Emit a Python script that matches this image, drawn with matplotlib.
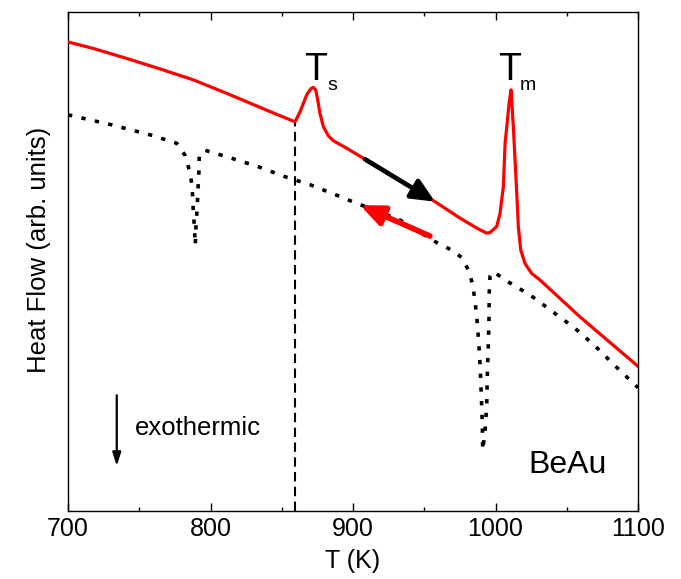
import matplotlib.pyplot as plt
import numpy as np

plt.rcParams['font.family'] = ['Liberation Sans', 'DejaVu Sans']

# heating run (red, solid)
heat_T = [700, 717.8, 741.2, 764.6, 788.0, 811.4, 834.7, 846.4, 859.3,
          862.8, 867.5, 870.3, 872.1, 873.8, 875.2, 876.8, 879.2, 882.7,
          886.2, 895.6, 908.4, 957.5, 975.1, 986.8, 993.8, 996.1, 1000.8,
          1003.2, 1004.3, 1005.5, 1006.7, 1007.9, 1009.5, 1010.9, 1012.5,
          1013.7, 1014.9, 1016.0, 1017.7, 1020.7, 1025.4, 1031.2, 1059.3, 1100]
heat_q = [94.0, 92.7, 90.7, 88.6, 86.4, 83.7, 80.9, 79.5, 78.0,
          80.0, 83.4, 84.6, 84.9, 84.4, 82.4, 79.7, 77.0, 75.2,
          74.2, 72.7, 70.5, 62.0, 58.7, 56.7, 55.7, 55.8, 57.0,
          59.7, 62.3, 65.0, 73.7, 77.0, 81.7, 84.4, 77.0,
          70.3, 63.7, 57.0, 52.3, 49.6, 47.6, 46.3, 38.9, 29.0]

# cooling run (black, dotted)
cool_T = [700, 730.6, 758.7, 776.3, 782.1, 785.1, 786.8, 787.5, 787.9,
          788.6, 789.1, 789.3, 789.8, 790.5, 791.0, 791.4, 791.9, 792.1,
          796.1, 814.8, 833.5, 852.3, 869.8, 888.5,
          897.9, 933, 958.7, 969.2, 976.3, 980.9, 983.8, 985.2, 986.3,
          987.3, 988.0, 988.7, 989.2, 989.6, 990.3, 990.7, 991.0, 992.6,
          993.8, 994.2, 994.9, 995.4, 995.6, 996.1, 998.5, 1006.7, 1024.2,
          1039.4, 1055.8, 1069.8, 1083.9, 1100]
cool_q = [79.4, 77.4, 75.3, 73.7, 71.3, 68.3, 65.7, 62.9, 60.1,
          57.3, 54.5, 53.3, 57.3, 60.1, 62.9, 65.7, 68.3, 71.3,
          72.3, 70.7, 69.0, 67.0, 65.4, 63.3,
          62.2, 58.3, 53.8, 52.3, 50.8, 48.3, 45.6, 42.9, 40.3,
          37.3, 34.6, 31.6, 28.9, 26.3, 20.9, 17.6, 12.2, 15.9,
          20.9, 26.9, 32.9, 38.3, 43.9, 47.0, 48.0, 46.3, 43.3,
          40.1, 36.6, 33.1, 29.1, 24.7]

T_s = 859.3
xticks = [700, 800, 900, 1000, 1100]


def main():
    fig = plt.figure(figsize=(6.81, 5.79), dpi=100)
    ax = fig.add_axes([0.0999, 0.1174, 0.837, 0.8618])

    ax.plot(heat_T, heat_q, color='red', lw=2.3, solid_joinstyle='round', zorder=3)
    ax.plot(cool_T, cool_q, color='black', lw=2.6, dashes=(1.2, 2.6), zorder=2)

    # structural transition marker
    ax.plot([T_s, T_s], [0, np.interp(T_s, heat_T, heat_q)], color='black',
            lw=1.5, dashes=(4.5, 2.6), zorder=2)

    # heating / cooling direction arrows
    ax.annotate('', xy=(957.5, 62.0), xytext=(908.4, 70.5),
                arrowprops=dict(arrowstyle='-|>,head_length=0.7,head_width=0.32',
                                mutation_scale=20, color='black', lw=3.4,
                                shrinkA=0, shrinkB=0),
                zorder=4)
    ax.annotate('', xy=(904.9, 61.3), xytext=(954.0, 55.1),
                arrowprops=dict(arrowstyle='-|>,head_length=0.7,head_width=0.3',
                                mutation_scale=20, color='red', lw=4.0,
                                shrinkA=0, shrinkB=0),
                zorder=4)
    ax.annotate('', xy=(734.2, 9.0), xytext=(734.2, 23.2),
                arrowprops=dict(arrowstyle='-|>,head_length=0.8,head_width=0.25',
                                color='black', lw=1.6, shrinkA=0, shrinkB=0))

    ax.text(865.6, 86.4, 'T', fontsize=27, va='baseline')
    ax.text(882.0, 84.4, 's', fontsize=14, va='baseline')
    ax.text(1001.8, 86.4, 'T', fontsize=27, va='baseline')
    ax.text(1017.0, 84.4, 'm', fontsize=14, va='baseline')
    ax.text(747, 15.2, 'exothermic', fontsize=18.5, va='baseline')
    ax.text(1022.8, 7.6, 'BeAu', fontsize=23, va='baseline')

    ax.set_xlim(700, 1100)
    ax.set_ylim(0, 100)
    ax.set_xticks(xticks)
    ax.set_xticks(np.arange(750, 1100, 100), minor=True)
    ax.set_yticks([])
    ax.tick_params(axis='x', which='both', direction='in', top=True,
                   labelsize=18, pad=4)
    ax.tick_params(axis='x', which='major', length=6, width=1)
    ax.tick_params(axis='x', which='minor', length=3, width=1)
    for s in ax.spines.values():
        s.set_linewidth(1.0)

    ax.set_xlabel('T (K)', fontsize=18, labelpad=6)
    ax.set_ylabel('Heat Flow (arb. units)', fontsize=18.5)
    ax.yaxis.set_label_coords(-0.03, 0.523)

    fig.savefig('out.png', dpi=100)
    plt.close(fig)


if __name__ == '__main__':
    main()
